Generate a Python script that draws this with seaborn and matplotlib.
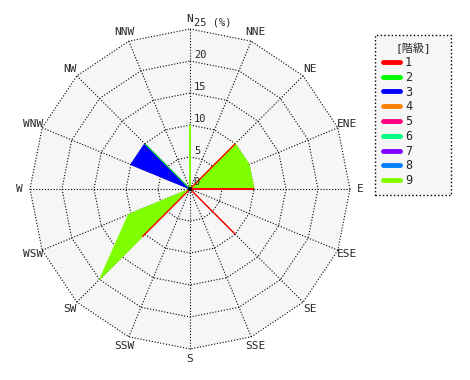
import numpy as np
import matplotlib
matplotlib.use("Agg")
import matplotlib.pyplot as plt
import seaborn as sns
from matplotlib.lines import Line2D

directions = ["N", "NNE", "NE", "ENE", "E", "ESE", "SE", "SSE",
              "S", "SSW", "SW", "WSW", "W", "WNW", "NW", "NNW"]
levels = ["1", "2", "3", "4", "5", "6", "7", "8", "9"]
colors = ["#ff0000", "#00ff00", "#0000ff", "#ff8000", "#ff0080",
          "#00ff80", "#8000ff", "#0080ff", "#80ff00"]

#            N  NNE NE  ENE E  ESE SE SSE S SSW SW   WSW  W WNW NW NNW
level1 = [0, 0, 10, 0, 10, 0, 10, 0, 0, 0, 10.5, 0, 0, 0, 0, 0]
level2 = [0, 0, 0, 0, 0, 0, 0, 0, 0, 0, 0, 0, 0, 0, 10, 0]
level3 = [0, 0, 0, 0, 0, 0, 0, 0, 0, 0, 0, 0, 0, 10, 10, 0]
level4 = [0] * 16
level5 = [0] * 16
level6 = [0] * 16
level7 = [0] * 16
level8 = [0] * 16
level9 = [10, 0, 10, 10, 10, 0, 0, 0, 0, 0, 20, 10.4, 0, 0, 0, 0]
series = [level1, level2, level3, level4, level5, level6, level7, level8, level9]

rings = [5, 10, 15, 20, 25]
rmax = 25

sns.set_style("white")
plt.rcParams['font.family'] = ['DejaVu Sans Mono', 'Noto Sans CJK JP']

fig = plt.figure(figsize=(4.7, 3.8), dpi=100)
ax = fig.add_axes([0, 0, 1, 1])
scale = 6.4
ax.set_xlim(-190 / scale, 280 / scale)
ax.set_ylim(-191 / scale, 189 / scale)
ax.axis("off")

theta = np.deg2rad(np.arange(16) * 22.5)
sx, sy = np.sin(theta), np.cos(theta)

def poly(vals):
    v = np.asarray(vals, dtype=float)
    return v * sx, v * sy

dots = (0, (1, 1.6))
# background
bx, by = poly([rmax] * 16)
ax.fill(bx, by, color="#f6f6f6", zorder=0, lw=0)

# rings
for r in rings:
    px, py = poly([r] * 16)
    ax.plot(np.append(px, px[0]), np.append(py, py[0]), color="black",
            ls=dots, lw=0.8, zorder=1)
# spokes
for i in range(16):
    ax.plot([0, rmax * sx[i]], [0, rmax * sy[i]], color="black",
            ls=dots, lw=0.8, zorder=1)

# series, last level underneath
for k in range(len(series) - 1, -1, -1):
    vals = series[k]
    if max(vals) == 0:
        continue
    px, py = poly(vals)
    ax.fill(px, py, facecolor=colors[k], edgecolor=colors[k], lw=0.7, zorder=2 + (8 - k))

sns.scatterplot(x=[0], y=[0], color="black", s=10, ax=ax, zorder=20, edgecolor="none")

fs = 8
# direction labels
for i, d in enumerate(directions):
    ax.text(26.6 * sx[i], 26.6 * sy[i], d, ha="center", va="center", fontsize=fs)

# radial labels
ax.text(0.5, 0.3, "0", ha="left", va="bottom", fontsize=fs - 0.5, zorder=21)
for r in rings:
    lab = f"{r}" if r != rmax else f"{r} (%)"
    ax.text(0.6, r + 0.2, lab, ha="left", va="bottom", fontsize=fs - 0.5)

handles = [Line2D([0], [0], color=c, lw=3.5) for c in colors]
x0 = 375 / 470
w = 76 / 470
leg = fig.legend(handles, levels, title="[階級]", loc="upper left",
                 bbox_to_anchor=(x0, 1 - 35 / 380 - 0.01, w, 0.01), mode="expand",
                 fontsize=fs + 0.5, title_fontsize=fs,
                 frameon=True, fancybox=False,
                 handlelength=1.5, handletextpad=0.4, labelspacing=0.15,
                 borderpad=0.65, borderaxespad=0)
fr = leg.get_frame()
fr.set_facecolor("#f6f6f6")
fr.set_edgecolor("black")
fr.set_linestyle(":")
fr.set_linewidth(1)
fr.set_alpha(1)

fig.savefig("out.png", dpi=100)
